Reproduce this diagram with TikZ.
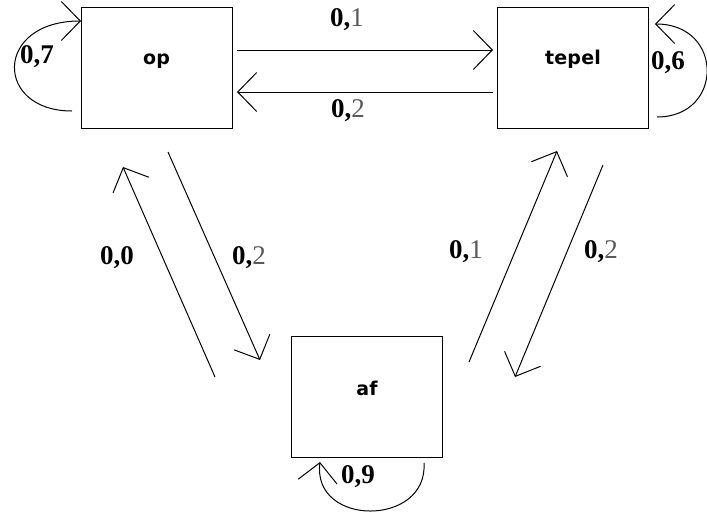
\documentclass[tikz,border=0pt]{standalone}
\usepackage{fontspec}
\setmainfont{Liberation Serif}
\newfontfamily\boxfont[LetterSpace=1]{DejaVu Sans}
\usetikzlibrary{arrows.meta}
\begin{document}
\begin{tikzpicture}[x=1pt,y=-1pt,
  line width=1pt,
  >={Straight Barb[length=19pt,width=39pt,line width=1pt]},
  state/.style={draw,line width=0.8pt,minimum width=151pt,minimum height=121pt,inner sep=0pt,
     font=\boxfont\bfseries\fontsize{19}{19}\selectfont},
  prob/.style={font=\bfseries\fontsize{27}{27}\selectfont,inner sep=0pt}]
\useasboundingbox (0,0) rectangle (707,512);
% states
\node[state,text height=14pt,text depth=22pt] (op) at (156.5,68) {op};
\node[state,text height=14pt,text depth=22pt] (tepel) at (573,68) {tepel};
\node[state,text height=15pt,text depth=19pt] (af) at (367,397) {af};
% end points of connectors
\coordinate (a1) at (237,50);  \coordinate (a2) at (493,50);
\coordinate (b1) at (493,92);  \coordinate (b2) at (237,92);
\coordinate (c1) at (168,152); \coordinate (c2) at (260,360);
\coordinate (d1) at (215,377); \coordinate (d2) at (123,167);
\coordinate (e1) at (469,362); \coordinate (e2) at (557,151);
\coordinate (f1) at (603,165); \coordinate (f2) at (515,377);
\coordinate (l1) at (72,111);  \coordinate (l2) at (81,21);
\coordinate (m1) at (657,117); \coordinate (m2) at (655,24);
\coordinate (n1) at (424,463); \coordinate (n2) at (320,462);
% connectors
\draw[->] (a1) -- (a2);
\draw[->] (b1) -- (b2);
\draw[->] (c1) -- (c2);
\draw[->] (d1) -- (d2);
\draw[->] (e1) -- (e2);
\draw[->] (f1) -- (f2);
\draw[->] (l1) .. controls (-6,111) and (-6,21) .. (l2);
\draw[->] (m1) .. controls (724,117) and (724,24) .. (m2);
\draw[->] (n1) .. controls (428,527) and (312,527) .. (n2);
% labels
\node[prob] (p1) at (347,20) {0,\textcolor{black!65}{\mdseries 1}};
\node[prob] (p2) at (348,111) {0,\textcolor{black!65}{\mdseries 2}};
\node[prob] (p3) at (37,57) {0,7};
\node[prob] (p4) at (668,63) {0,6};
\node[prob] (p5) at (117,258) {0,0};
\node[prob] (p6) at (249,258) {0,\textcolor{black!65}{\mdseries 2}};
\node[prob] (p7) at (466,252) {0,\textcolor{black!65}{\mdseries 1}};
\node[prob] (p8) at (601,252) {0,\textcolor{black!65}{\mdseries 2}};
\node[prob] (p9) at (358,477) {0,9};
\end{tikzpicture}
\end{document}
